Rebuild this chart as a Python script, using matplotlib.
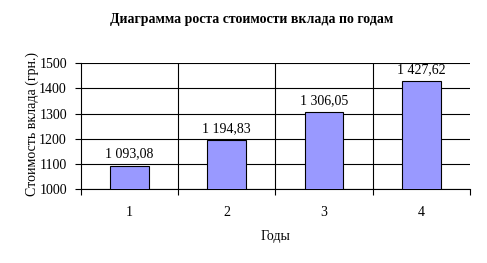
import matplotlib
matplotlib.use("Agg")
import matplotlib.pyplot as plt

years = ["1", "2", "3", "4"]
values = [1093.08, 1194.83, 1306.05, 1427.62]
value_labels = ["1 093,08", "1 194,83", "1 306,05", "1 427,62"]
y_ticks = [1000, 1100, 1200, 1300, 1400, 1500]

plt.rcParams["font.family"] = ["Liberation Serif", "DejaVu Serif"]
plt.rcParams["font.size"] = 10

fig = plt.figure(figsize=(4.87, 2.63), dpi=100)
ax = fig.add_axes([0.166, 0.281, 0.799, 0.479])

x = list(range(len(years)))
bars = ax.bar(x, values, width=0.4, color="#9999FF", edgecolor="black",
              linewidth=0.8, zorder=3)
for xi, v, lab in zip(x, values, value_labels):
    ax.text(xi, v + 20, lab, ha="center", va="bottom", fontsize=10)

ax.set_xlim(-0.5, len(years) - 0.5)
ax.set_ylim(1000, 1500)
ax.set_yticks(y_ticks)
ax.set_yticklabels([str(t) for t in y_ticks])
ax.set_xticks(x)
ax.set_xticklabels(years)
ax.set_xticks([i + 0.5 for i in range(-1, len(years))], minor=True)

# horizontal grid lines
ax.yaxis.grid(True, color="black", linewidth=0.8, zorder=0)
# vertical lines at category boundaries
for b in [0.5, 1.5, 2.5]:
    ax.axvline(b, color="black", linewidth=0.8, zorder=0)

ax.tick_params(axis="x", which="major", length=0, pad=12)
ax.tick_params(axis="x", which="minor", length=4, width=0.8, direction="out")
ax.tick_params(axis="y", length=4, width=0.8, direction="out", pad=6)

for s in ["top", "right"]:
    ax.spines[s].set_visible(False)
ax.spines["left"].set_linewidth(0.8)
ax.spines["bottom"].set_linewidth(0.8)

ax.set_xlabel("Годы", fontsize=10, labelpad=8)
ax.set_ylabel("Стоимость вклада (грн.)", fontsize=10)
ax.yaxis.set_label_coords(-0.107, 0.52)
fig.text(0.517, 0.924, "Диаграмма роста стоимости вклада по годам",
         ha="center", va="center", fontsize=10, fontweight="bold")

fig.savefig("out.png", dpi=100)
